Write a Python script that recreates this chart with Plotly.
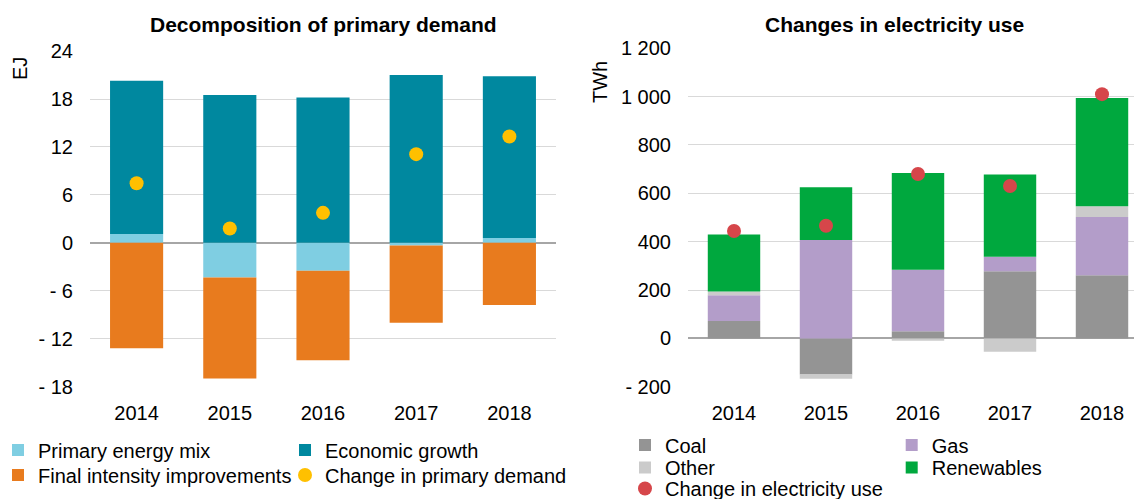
import plotly.graph_objects as go

years = ["2014", "2015", "2016", "2017", "2018"]

# Decomposition of primary demand (EJ)
mix = [1.1, -4.35, -3.5, -0.35, 0.6]
econ = [19.2, 18.5, 18.2, 21.0, 20.25]
intensity = [-13.2, -12.65, -11.2, -9.65, -7.8]
primary_change = [7.45, 1.8, 3.75, 11.1, 13.3]
ej_ticks = [-18, -12, -6, 0, 6, 12, 18, 24]
ej_labels = ["- 18", "- 12", "- 6", "0", "6", "12", "18", "24"]

# Changes in electricity use (TWh)
coal = [72, -149, 30, 278, 261]
gas = [107, 407, 254, 60, 241]
other = [15, -18, -10, -55, 45]
renew = [236, 218, 400, 340, 447]
elec_change = [444, 466, 680, 630, 1010]
twh_ticks = [-200, 0, 200, 400, 600, 800, 1000, 1200]
twh_labels = ["- 200", "0", "200", "400", "600", "800", "1 000", "1 200"]

FONT = "Liberation Sans, Arial, sans-serif"
W, H = 1142, 499
OFF = 8  # page body margin offset


def px_x(s):
    return (s - OFF) / W


def px_y(s):
    return 1 - (s - OFF) / H


fig = go.Figure()

# left chart
fig.add_trace(go.Bar(x=years, y=mix, name="Primary energy mix", marker_color="#7FCEE2",
                     marker_line_width=0, xaxis="x", yaxis="y", legend="legend"))
fig.add_trace(go.Bar(x=years, y=econ, name="Economic growth", marker_color="#00889F",
                     marker_line_width=0, xaxis="x", yaxis="y", legend="legend2"))
fig.add_trace(go.Bar(x=years, y=intensity, name="Final intensity improvements", marker_color="#E87B1E",
                     marker_line_width=0, xaxis="x", yaxis="y", legend="legend3"))
fig.add_trace(go.Scatter(x=years, y=primary_change, name="Change in primary demand", mode="markers",
                         marker=dict(color="#FFC000", size=14), xaxis="x", yaxis="y", legend="legend4"))

# right chart
fig.add_trace(go.Bar(x=years, y=coal, name="Coal", marker_color="#949494",
                     marker_line_width=0, xaxis="x2", yaxis="y2", legend="legend5"))
fig.add_trace(go.Bar(x=years, y=gas, name="Gas", marker_color="#B39DC9",
                     marker_line_width=0, xaxis="x2", yaxis="y2", legend="legend6"))
fig.add_trace(go.Bar(x=years, y=other, name="Other", marker_color="#CBCBCB",
                     marker_line_width=0, xaxis="x2", yaxis="y2", legend="legend7"))
fig.add_trace(go.Bar(x=years, y=renew, name="Renewables", marker_color="#00A83E",
                     marker_line_width=0, xaxis="x2", yaxis="y2", legend="legend8"))
fig.add_trace(go.Scatter(x=years, y=elec_change, name="Change in electricity use", mode="markers",
                         marker=dict(color="#D6464A", size=14), xaxis="x2", yaxis="y2", legend="legend9"))

grid = "#D9D9D9"
zero = "#A6A6A6"
tickfont = dict(family=FONT, size=20, color="#000000")


def leg(text_x, center_y, indent=0):
    fx = max(text_x - OFF - 40 - indent, 0)
    return dict(orientation="h", font=dict(family=FONT, size=20, color="#000000"),
                bgcolor="rgba(0,0,0,0)", borderwidth=0, xanchor="left", yanchor="middle",
                x=fx / W, y=px_y(center_y), indentation=indent,
                itemclick=False, itemdoubleclick=False)


fig.update_layout(
    template="none",
    width=W, height=H,
    margin=dict(l=0, r=0, t=0, b=0, autoexpand=False),
    paper_bgcolor="white", plot_bgcolor="white",
    barmode="relative", bargap=0.43,
    showlegend=True,
    font=dict(family=FONT, size=20, color="#000000"),
    xaxis=dict(domain=[px_x(90), px_x(556)], tickfont=tickfont, showgrid=False,
               showline=False, zeroline=False, ticks="", ticklabelstandoff=12, anchor="y",
               automargin=False),
    yaxis=dict(domain=[px_y(387), px_y(50.7)], range=[-18.05, 24.05], tickvals=ej_ticks,
               ticktext=ej_labels, tickfont=tickfont, showgrid=True, gridcolor=grid, gridwidth=1,
               zeroline=True, zerolinecolor=zero, zerolinewidth=1.5, showline=False,
               ticks="", ticklabelstandoff=16, anchor="x", automargin=False,
               layer="above traces"),
    xaxis2=dict(domain=[px_x(688), px_x(1148)], tickfont=tickfont, showgrid=False,
                showline=False, zeroline=False, ticks="", ticklabelstandoff=12, anchor="y2",
                automargin=False),
    yaxis2=dict(domain=[px_y(387.3), px_y(47.7)], range=[-202, 1202], tickvals=twh_ticks,
                ticktext=twh_labels, tickfont=tickfont, showgrid=True, gridcolor=grid, gridwidth=1,
                zeroline=True, zerolinecolor=zero, zerolinewidth=1.5, showline=False,
                ticks="", ticklabelstandoff=16, anchor="x2", automargin=False,
                layer="above traces"),
    legend=leg(36, 450, indent=-10),
    legend2=leg(325, 450),
    legend3=leg(36, 475, indent=-10),
    legend4=leg(325, 475),
    legend5=leg(665, 445),
    legend6=leg(931.7, 445),
    legend7=leg(665, 467.5),
    legend8=leg(931.7, 467.5),
    legend9=leg(665, 488.5),
    annotations=[
        dict(text="<b>Decomposition of primary demand</b>", x=px_x(323), y=px_y(24),
             xref="paper", yref="paper", showarrow=False, xanchor="center", yanchor="middle",
             font=dict(family=FONT, size=21, color="#000000")),
        dict(text="<b>Changes in electricity use</b>", x=px_x(894), y=px_y(24),
             xref="paper", yref="paper", showarrow=False, xanchor="center", yanchor="middle",
             font=dict(family=FONT, size=21, color="#000000")),
        dict(text="EJ", x=px_x(20), y=px_y(69), xref="paper", yref="paper", showarrow=False,
             textangle=-90, xanchor="center", yanchor="middle",
             font=dict(family=FONT, size=20, color="#000000")),
        dict(text="TWh", x=px_x(600.5), y=px_y(82.5), xref="paper", yref="paper", showarrow=False,
             textangle=-90, xanchor="center", yanchor="middle",
             font=dict(family=FONT, size=20, color="#000000")),
    ],
)

fig.write_html("out.html")
